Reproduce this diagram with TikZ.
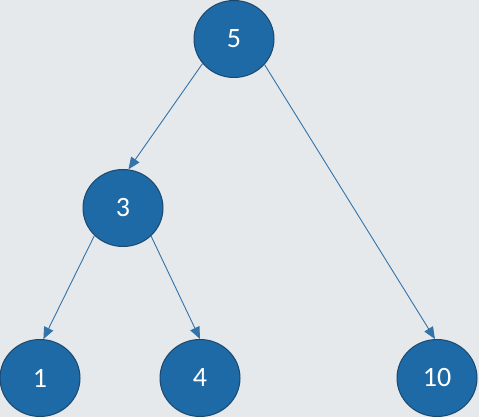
\documentclass[tikz,border=0pt]{standalone}
\usepackage{fontspec}
\setmainfont{Carlito}
\usetikzlibrary{shapes.geometric,arrows.meta}
\definecolor{bg}{RGB}{229,233,235}
\definecolor{nodefill}{RGB}{30,106,166}
\definecolor{nodeborder}{RGB}{27,72,110}
\definecolor{edgecol}{RGB}{52,115,170}
\tikzset{
  treenode/.style={ellipse, draw=nodeborder, line width=1pt, fill=nodefill,
    minimum width=80pt, minimum height=77pt, inner sep=0pt,
    text=white, font=\fontsize{28}{30}\selectfont},
  edge/.style={draw=edgecol, line width=0.9pt, -{Triangle[length=12pt,width=10pt]}}
}
\begin{document}
\begin{tikzpicture}[x=1pt,y=1pt]
\fill[bg] (0,0) rectangle (479,417);
\useasboundingbox (0,0) rectangle (479,417);
\node[treenode] (n5) at (234,378) {5};
\node[treenode] (n3) at (123,209) {3};
\node[treenode] (n1) at (40,39) {1};
\node[treenode] (n4) at (200,39) {4};
\node[treenode] (n10) at (437,39) {10};
\draw[edge] (n5.218) -- (n3.82);
\draw[edge] (n5.320) -- (n10.93);
\draw[edge] (n3.224) -- (n1.85);
\draw[edge] (n3.315) -- (n4.90);
\end{tikzpicture}
\end{document}
